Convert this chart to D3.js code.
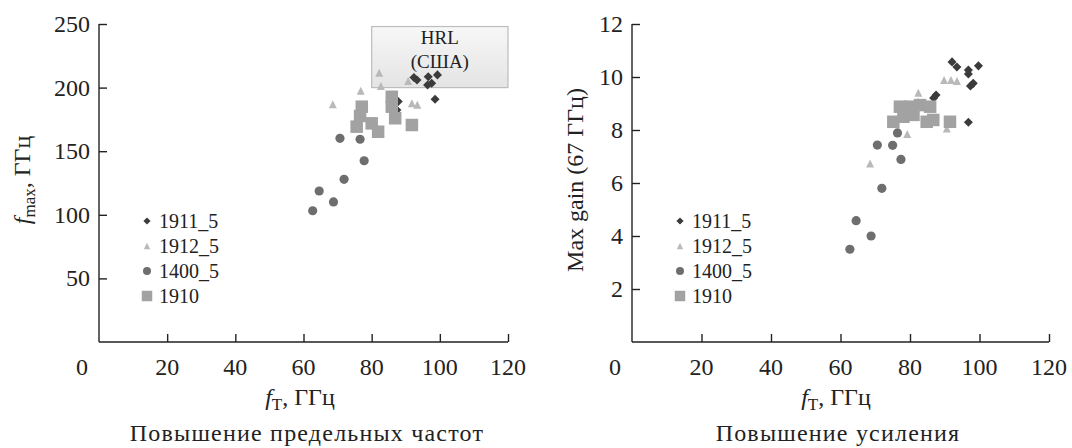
<!DOCTYPE html>
<html>
<head>
<meta charset="utf-8">
<script src="https://cdn.jsdelivr.net/npm/d3@7"></script>
<style>
  body { margin: 0; background: #fff; }
  svg text { font-family: "Liberation Serif", "Times New Roman", Times, serif; }
  .axis path, .axis line { stroke: #222; stroke-width: 1.4px; }
  .axis text { font-size: 24px; fill: #222; }
  .legend text { font-size: 20px; fill: #222; }
  .title { font-size: 24px; fill: #222; }
</style>
</head>
<body>
<div id="chart"></div>
<script>
// x ticks shared by both panels
var xTicks = [20, 40, 60, 80, 100, 120];
var leftYTicks = [50, 100, 150, 200, 250];
var rightYTicks = [2, 4, 6, 8, 10, 12];
var seriesNames = ["1911_5", "1912_5", "1400_5", "1910"];

// left panel: fT (GHz) vs fmax (GHz)
var fmax1911 = [[92.4, 208], [93.3, 206], [96.6, 208.6], [99.3, 210], [96.4, 202], [97.6, 203.4], [98.6, 190.8], [87.8, 189], [87.4, 182.4]];
var fmax1912 = [[82.2, 211.7], [76.8, 197.6], [68.6, 186.9], [82.7, 201.3], [91.8, 187.7], [93.4, 186.5], [90.7, 205.2]];
var fmax1400 = [[70.7, 160.1], [76.6, 159.4], [77.8, 142.5], [71.9, 127.9], [64.6, 118.7], [68.8, 110.1], [62.7, 103.2]];
var fmax1910 = [[85.9, 192.8], [85.9, 185], [86.9, 175.9], [77.1, 185], [76.6, 177.7], [75.6, 169.3], [80, 171.9], [81.9, 165.3], [91.8, 170.6]];

// right panel: fT (GHz) vs max gain at 67 GHz
var gain1911 = [[92.1, 10.57], [93.5, 10.38], [96.8, 10.26], [96.8, 10.11], [99.7, 10.42], [98.2, 9.76], [97.4, 9.66], [87.5, 9.32], [86.8, 9.21], [96.8, 8.29]];
var gain1912 = [[89.8, 9.89], [91.8, 9.89], [93.5, 9.85], [82.4, 9.41], [82.4, 9.07], [79.2, 7.85], [90.6, 8.06], [68.5, 6.74]];
var gain1400 = [[76.4, 7.89], [70.6, 7.43], [75.0, 7.42], [77.4, 6.89], [71.9, 5.80], [64.5, 4.58], [68.8, 4.0], [62.7, 3.5]];
var gain1910 = [[77.1, 8.88], [80, 8.88], [82.9, 8.94], [85.8, 8.88], [75.2, 8.31], [78.1, 8.5], [81, 8.57], [84.8, 8.31], [86.7, 8.38], [91.5, 8.31]];

var colors = ["#3b3b3b", "#b9b9b9", "#6e6e6e", "#a2a2a2"];

var svg = d3.select("#chart").append("svg")
  .attr("width", 1072)
  .attr("height", 448);

function drawMark(g, type, x, y, big) {
  var s = big ? 1 : 0.8;
  if (type === 0) {
    g.append("rect")
      .attr("x", -3.2 * s).attr("y", -3.2 * s)
      .attr("width", 6.4 * s).attr("height", 6.4 * s)
      .attr("transform", "translate(" + x + "," + y + ") rotate(45)")
      .attr("fill", colors[0]);
  } else if (type === 1) {
    var h = 8 * s;
    g.append("path")
      .attr("d", "M0," + (-h / 2) + "L" + (h / 2) + "," + (h / 2) + "L" + (-h / 2) + "," + (h / 2) + "Z")
      .attr("transform", "translate(" + x + "," + y + ")")
      .attr("fill", colors[1]);
  } else if (type === 2) {
    g.append("circle")
      .attr("cx", x).attr("cy", y).attr("r", big ? 4.6 : 4)
      .attr("fill", colors[2]);
  } else {
    var w = big ? 12.5 : 10.5;
    g.append("rect")
      .attr("x", x - w / 2).attr("y", y - w / 2)
      .attr("width", w).attr("height", w)
      .attr("fill", colors[3]);
  }
}

function panel(opt) {
  var x = d3.scaleLinear().domain([0, 120]).range([opt.left, opt.right]);
  var y = d3.scaleLinear().domain([0, opt.ymax]).range([342, 24]);

  svg.append("g")
    .attr("class", "axis")
    .attr("transform", "translate(0,342)")
    .call(d3.axisTop(x).tickValues(xTicks).tickSize(8).tickSizeOuter(0).tickFormat(""))
    .call(function(g) { g.select(".domain").attr("d", "M" + opt.left + ",0H" + opt.right); });

  // x tick labels below the axis line
  var xl = svg.append("g").attr("class", "axis");
  xl.selectAll("text")
    .data([0].concat(xTicks))
  .enter().append("text")
    .attr("x", function(d) { return d === 0 ? x(0) - 17 : x(d); })
    .attr("y", 375)
    .attr("text-anchor", "middle")
    .text(function(d) { return d; });

  svg.append("g")
    .attr("class", "axis")
    .attr("transform", "translate(" + opt.left + ",0)")
    .call(d3.axisRight(y).tickValues(opt.yTicks).tickSize(8).tickSizeOuter(0).tickFormat(""))
    .call(function(g) { g.select(".domain").attr("d", "M0,342V24"); });

  var yl = svg.append("g").attr("class", "axis");
  yl.selectAll("text")
    .data(opt.yTicks)
  .enter().append("text")
    .attr("x", opt.left - 9)
    .attr("y", function(d) { return y(d) + 8; })
    .attr("text-anchor", "end")
    .text(function(d) { return d; });

  if (opt.box) {
    var defs = svg.append("defs");
    var grad = defs.append("linearGradient").attr("id", "boxg")
      .attr("x1", 0).attr("y1", 0).attr("x2", 0).attr("y2", 1);
    grad.append("stop").attr("offset", "0%").attr("stop-color", "#f7f7f7");
    grad.append("stop").attr("offset", "100%").attr("stop-color", "#e4e4e4");
    var bx = x(opt.box.x0), bx1 = x(opt.box.x1), by = y(opt.box.y1), by1 = y(opt.box.y0);
    svg.append("rect")
      .attr("x", bx).attr("y", by)
      .attr("width", bx1 - bx).attr("height", by1 - by)
      .attr("fill", "url(#boxg)")
      .attr("stroke", "#bdbdbd").attr("stroke-width", 1.2);
    svg.append("text").attr("class", "title")
      .attr("x", (bx + bx1) / 2).attr("y", by + 17)
      .attr("text-anchor", "middle").style("font-size", "19px")
      .text("HRL");
    svg.append("text").attr("class", "title")
      .attr("x", (bx + bx1) / 2).attr("y", by + 41)
      .attr("text-anchor", "middle").style("font-size", "19px")
      .text("(США)");
  }

  var marks = svg.append("g");
  opt.series.forEach(function(data, i) {
    data.forEach(function(d) {
      drawMark(marks, i, x(d[0]), y(d[1]), true);
    });
  });

  var legend = svg.append("g").attr("class", "legend");
  seriesNames.forEach(function(name, i) {
    var ly = 221 + i * 25;
    drawMark(legend, i, opt.left + 48, ly, false);
    legend.append("text")
      .attr("x", opt.left + 60)
      .attr("y", ly + 7)
      .text(name);
  });

  // x title
  var xt = svg.append("text").attr("class", "title")
    .attr("x", opt.xTitleX).attr("y", 405)
    .attr("text-anchor", "middle");
  xt.append("tspan").style("font-style", "italic").text("f");
  xt.append("tspan").attr("dy", 5).style("font-size", "17px").text("T");
  xt.append("tspan").attr("dy", -5).text(", ГГц");

  svg.append("text").attr("class", "title")
    .attr("x", opt.subX).attr("y", 441)
    .attr("text-anchor", "middle")
    .style("font-size", "24px")
    .style("letter-spacing", "1.2px")
    .text(opt.sub);

  var yt = svg.append("text").attr("class", "title")
    .attr("transform", "translate(" + opt.yTitleX + ",180) rotate(-90)")
    .attr("text-anchor", "middle");
  opt.yTitle(yt);
}

panel({
  left: 99, right: 508, ymax: 250, yTicks: leftYTicks,
  series: [fmax1911, fmax1912, fmax1400, fmax1910],
  box: { x0: 80, x1: 120, y0: 200, y1: 248 },
  xTitleX: 300, subX: 307, sub: "Повышение предельных частот", yTitleX: 30,
  yTitle: function(t) {
    t.append("tspan").style("font-style", "italic").text("f");
    t.append("tspan").attr("dy", 5).style("font-size", "17px").text("max");
    t.append("tspan").attr("dy", -5).text(", ГГц");
  }
});

panel({
  left: 632, right: 1049, ymax: 12, yTicks: rightYTicks,
  series: [gain1911, gain1912, gain1400, gain1910],
  xTitleX: 836, subX: 838, sub: "Повышение усиления", yTitleX: 583,
  yTitle: function(t) { t.text("Max gain (67 ГГц)"); }
});
</script>
</body>
</html>
